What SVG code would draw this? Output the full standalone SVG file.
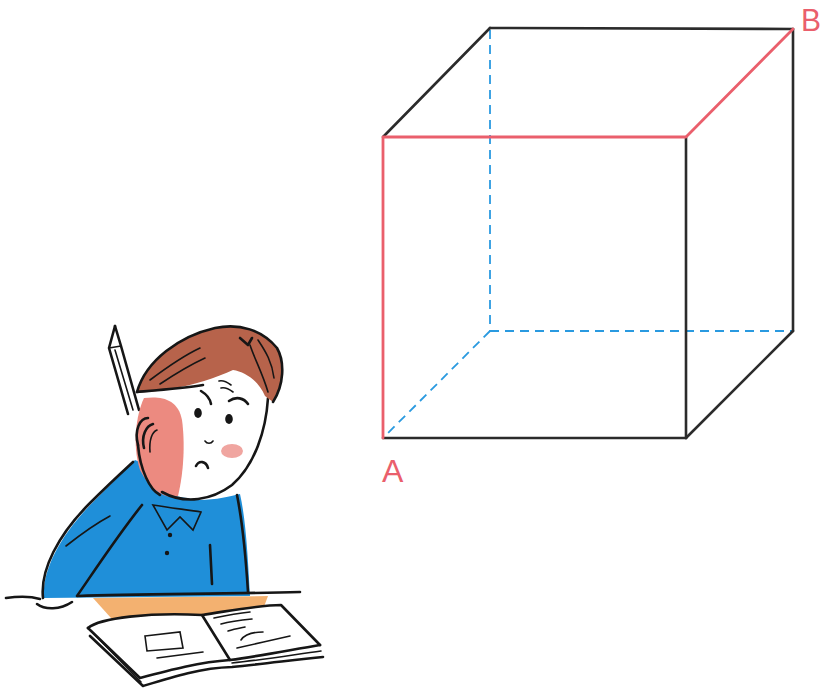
<svg xmlns="http://www.w3.org/2000/svg" width="823" height="689" viewBox="0 0 823 689">
  <style>
    .edge { stroke: #2b2b2b; stroke-width: 2.6; fill: none; stroke-linecap: round; }
    .hidden { stroke: #2a9ae0; stroke-width: 1.8; fill: none; stroke-dasharray: 9 6; }
    .path { stroke: #ea5f6c; stroke-width: 2.8; fill: none; stroke-linejoin: round; stroke-linecap: round; }
    .label { font-family: "Liberation Sans", Arial, sans-serif; font-size: 32px; fill: #ea5f6c; }
    .ink { stroke: #161616; fill: none; stroke-width: 2.6; stroke-linecap: round; stroke-linejoin: round; }
    .thin { stroke: #161616; fill: none; stroke-width: 1.6; stroke-linecap: round; }
  </style>

  <rect width="823" height="689" fill="#ffffff"/>

  <!-- cube -->
  <g id="connectors">
    <g id="hidden-edges">
      <line class="hidden" x1="490" y1="30" x2="490" y2="331"/>
      <line class="hidden" x1="490" y1="331" x2="793" y2="331"/>
      <line class="hidden" x1="490" y1="331" x2="384" y2="437" stroke="#5cb6e2"/>
    </g>
    <g id="visible-edges">
      <line class="edge" x1="383" y1="137" x2="490" y2="28"/>
      <line class="edge" x1="490" y1="28" x2="793" y2="29"/>
      <line class="edge" x1="793" y1="29" x2="793" y2="331"/>
      <line class="edge" x1="793" y1="331" x2="686" y2="438"/>
      <line class="edge" x1="686" y1="137" x2="686" y2="438"/>
      <line class="edge" x1="383" y1="438" x2="686" y2="438"/>
    </g>
    <polyline id="route-A-B" class="path" points="383,438 383,137 686,137 793,29"/>
  </g>

  <g id="vertex-A">
    <text class="label" x="382" y="482">A</text>
  </g>
  <g id="vertex-B">
    <text class="label" x="801" y="31" textLength="20" lengthAdjust="spacingAndGlyphs">B</text>
  </g>

  <!-- student at the desk -->
  <g id="student">
    <!-- desk surface -->
    <path d="M93,598 L268,596 L262,612 L230,626 L120,628 Z" fill="#f2a860" opacity="0.9"/>

    <!-- sweater -->
    <path d="M44,598 C42,570 60,535 95,500 C110,485 125,470 135,460 L160,470 C170,490 185,500 200,500 C215,500 232,496 240,494 C246,520 248,560 250,596 Z" fill="#1f8fd9"/>
    <!-- collar -->
    <path d="M153,505 L167,530 L180,517 L193,530 L201,512 C190,510 170,508 153,505 Z" fill="#ffffff" class="thin"/>
    <circle cx="170" cy="535" r="2.2" fill="#161616"/>
    <circle cx="167" cy="553" r="2.2" fill="#161616"/>
    <!-- sweater outlines -->
    <path class="ink" d="M43,598 C40,570 58,535 90,503 C105,488 120,474 133,462"/>
    <path class="ink" d="M37,604 C45,610 60,610 72,602"/>
    <path class="ink" d="M77,596 C95,570 118,535 142,505"/>
    <path class="thin" d="M66,546 C80,535 95,524 110,516"/>
    <path class="ink" d="M237,495 C243,525 246,560 248,592"/>
    <path class="ink" d="M210,545 L212,584"/>

    <!-- pencil -->
    <path d="M115,326 L109,348 L128,414 L139,410 L121,346 Z" fill="#ffffff"/>
    <path class="ink" d="M115,326 L109,348 L128,414"/>
    <path class="ink" d="M115,326 L121,346 L139,410"/>
    <line class="thin" x1="109" y1="348" x2="121" y2="346"/>
    <line class="thin" x1="115" y1="350" x2="133" y2="410"/>
    <path d="M113,330 L116,330 L115,326 Z" fill="#161616"/>

    <!-- face -->
    <path d="M145,395 C175,385 225,370 268,398 C266,430 255,465 230,485 C210,500 185,502 165,492 C150,470 143,430 145,395 Z" fill="#ffffff"/>
    <!-- cheek shading and hand -->
    <path d="M144,398 C160,396 178,398 182,420 C186,450 182,480 178,496 C165,500 150,490 140,470 C132,445 136,415 144,398 Z" fill="#ec8a80"/>
    <ellipse cx="232" cy="451" rx="11" ry="7" fill="#f0a5a0"/>
    <path class="ink" d="M268,398 C266,430 255,465 232,485 C212,500 185,505 162,492"/>
    <!-- fingers -->
    <path class="ink" d="M138,445 C134,430 140,418 148,418"/>
    <path class="ink" d="M144,448 C141,436 146,426 153,424"/>
    <path class="thin" d="M150,452 C149,440 152,432 157,430"/>
    <path class="ink" d="M138,445 C140,470 150,490 160,495"/>

    <!-- hair -->
    <path d="M137,392 C145,360 180,335 215,328 C240,323 262,330 277,348 C285,362 284,385 273,402 L265,396 C258,380 245,372 233,370 C215,378 195,385 170,389 C158,391 146,393 137,392 Z" fill="#b7634b"/>
    <path class="ink" d="M137,392 C146,360 180,336 215,328 C240,323 262,330 277,348 C285,362 284,385 273,402"/>
    <path class="ink" d="M137,392 C160,390 185,388 203,385"/>
    <path class="thin" d="M150,380 C170,365 185,355 200,348"/>
    <path class="thin" d="M160,384 C178,372 192,364 205,358"/>
    <path class="thin" d="M250,345 C255,360 262,372 268,392"/>
    <path class="thin" d="M258,340 C266,352 272,362 274,378"/>
    <path class="ink" d="M240,338 L248,345 L252,338"/>

    <!-- brows, eyes, nose, mouth -->
    <path class="ink" d="M201,391 C206,394 210,398 211,404"/>
    <path class="ink" d="M229,401 C236,396 244,398 248,404"/>
    <path class="thin" d="M219,381 C223,380 227,382 231,385"/>
    <path class="thin" d="M221,388 C225,387 229,389 233,392"/>
    <ellipse cx="198" cy="413" rx="3.8" ry="5" fill="#161616"/>
    <ellipse cx="229" cy="419" rx="3.8" ry="5" fill="#161616"/>
    <path class="thin" d="M205,441 C207,444 211,444 213,441"/>
    <path class="ink" d="M196,466 C199,460 206,461 208,468"/>

    <!-- desk edge -->
    <path class="ink" stroke-width="3" d="M6,598 C20,596 30,596 40,599 M78,596 C140,594 220,594 300,592"/>

    <!-- open book -->
    <path d="M88,628 C100,618 150,612 202,615 C235,610 260,605 281,605 L320,645 L322,658 L230,667 L143,686 L95,640 Z" fill="#ffffff"/>
    <path class="ink" d="M88,628 C100,618 150,612 202,615 C235,610 260,605 281,605 L320,645"/>
    <path class="ink" d="M88,628 L140,678 C170,670 200,662 230,660 C260,656 290,650 320,645"/>
    <path class="ink" d="M90,636 L143,686 C172,677 200,668 232,667 C262,664 294,660 323,657"/>
    <path class="thin" d="M92,632 L141,682 M232,663 C262,660 292,655 321,651"/>
    <path class="ink" d="M202,615 L230,660"/>
    <path d="M145,636 L180,632 L183,648 L147,651 Z" fill="#f2a860" class="thin"/>
    <path class="thin" d="M157,658 C172,656 188,654 203,652"/>
    <path class="thin" stroke="#6a6aa0" d="M214,618 C228,615 240,613 250,612"/>
    <path class="thin" stroke="#6a6aa0" d="M221,624 C232,621 242,620 252,619"/>
    <path class="thin" d="M228,631 C234,629 240,628 245,627"/>
    <path class="thin" d="M241,640 C245,634 255,632 263,632"/>
    <path class="thin" d="M237,648 C255,644 272,640 290,636"/>
  </g>
</svg>
